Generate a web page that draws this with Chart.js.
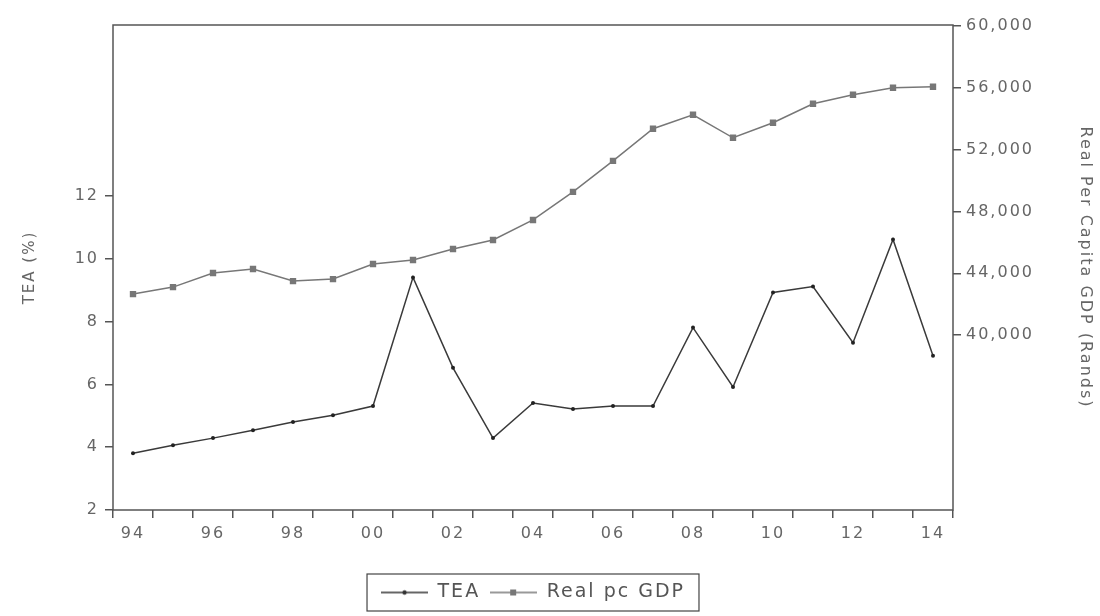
<!DOCTYPE html>
<html>
<head>
<meta charset="utf-8">
<script src="https://cdn.jsdelivr.net/npm/chart.js@4/dist/chart.umd.min.js"></script>
<style>
  body { margin: 0; background: #fff; }
</style>
</head>
<body>
<canvas id="chart" width="1100" height="616"></canvas>
<script>
const years = [1994, 1995, 1996, 1997, 1998, 1999, 2000, 2001, 2002, 2003, 2004,
               2005, 2006, 2007, 2008, 2009, 2010, 2011, 2012, 2013, 2014];
const tea = [3.81, 4.06, 4.29, 4.54, 4.8, 5.02, 5.31, 9.41, 6.53, 4.29, 5.41,
             5.22, 5.31, 5.31, 7.81, 5.92, 8.93, 9.12, 7.33, 10.62, 6.91];
const gdp = [42655, 43109, 44016, 44275, 43497, 43627, 44598, 44858, 45570, 46153, 47448,
             49262, 51269, 53342, 54249, 52759, 53731, 54961, 55544, 55997, 56062];
const leftTicks = [2, 4, 6, 8, 10, 12];
const rightTicks = [40000, 44000, 48000, 52000, 56000, 60000];

const FONT = "'DejaVu Sans', sans-serif";
const TXT = '#666';
const AX = '#555';

// little line+marker pictures for the legend
function legendIcon(color, marker) {
  let c = document.createElement('canvas');
  c.width = 47; c.height = 12;
  let g = c.getContext('2d');
  g.strokeStyle = color; g.lineWidth = 1.5;
  g.beginPath(); g.moveTo(0, 6); g.lineTo(47, 6); g.stroke();
  g.fillStyle = color;
  if (marker === 'rect') g.fillRect(20, 3, 6, 6);
  else { g.beginPath(); g.arc(23.5, 6, 2.2, 0, Math.PI * 2); g.fill(); }
  return c;
}
const icons = [legendIcon('#333', 'dot'), legendIcon('#777', 'rect')];

const spacing = {
  id: 'spacing',
  beforeUpdate(chart) { chart.ctx.letterSpacing = '2px'; },
  beforeDraw(chart) { chart.ctx.letterSpacing = '2px'; }
};

const frame = {
  id: 'frame',
  afterDraw(chart) {
    let {ctx, chartArea: a} = chart;
    ctx.save();
    ctx.strokeStyle = AX; ctx.lineWidth = 1.5;
    ctx.strokeRect(a.left, a.top, a.right - a.left, a.bottom - a.top);
    // box round the legend
    let l = chart.legend;
    let w = l.lineWidths[0] - l.options.labels.padding;
    let cx = (l.left + l.right) / 2;
    ctx.lineWidth = 1.2;
    ctx.strokeStyle = '#444';
    ctx.strokeRect(cx - w / 2 - 14, l.top + 1, w + 28, l.bottom - l.top - 2);
    ctx.restore();
  }
};

new Chart('chart', {
  type: 'line',
  data: {
    labels: years,
    datasets: [{
      label: 'TEA',
      data: tea,
      yAxisID: 'y',
      borderColor: '#3a3a3a',
      borderWidth: 1.5,
      pointStyle: 'circle',
      pointRadius: 2,
      pointBackgroundColor: '#222',
      pointBorderWidth: 0
    }, {
      label: 'Real pc GDP',
      data: gdp,
      yAxisID: 'y1',
      borderColor: '#777',
      borderWidth: 1.5,
      pointStyle: 'rect',
      pointRadius: 4.5,
      pointBackgroundColor: '#777',
      pointBorderWidth: 0
    }]
  },
  options: {
    responsive: false,
    animation: false,
    layout: {padding: {top: 25, bottom: 4, left: 0, right: 0}},
    plugins: {
      tooltip: {enabled: false},
      legend: {
        position: 'bottom',
        fullSize: false,
        labels: {
          usePointStyle: true,
          pointStyleWidth: 47,
          padding: 10,
          color: '#555',
          font: {family: FONT, size: 19},
          generateLabels: (chart) => {
            let items = Chart.defaults.plugins.legend.labels.generateLabels(chart);
            items.forEach((it, i) => { it.pointStyle = icons[i]; });
            return items;
          }
        }
      }
    },
    scales: {
      x: {
        type: 'category',
        offset: true,
        border: {display: false},
        grid: {offset: true, drawOnChartArea: false, tickLength: 8, color: AX, lineWidth: 1.5},
        ticks: {
          autoSkip: false, maxRotation: 0, padding: 6,
          color: TXT, font: {family: FONT, size: 16},
          callback: (v, i) => i % 2 === 0 ? String(years[i]).slice(2) : ''
        },
        afterFit: (s) => { s.height = 63; }
      },
      y: {
        position: 'left',
        min: 2, max: 17.45,
        border: {display: false},
        grid: {drawOnChartArea: false, tickLength: 8, color: AX, lineWidth: 1.5},
        afterBuildTicks: (s) => { s.ticks = leftTicks.map(v => ({value: v})); },
        ticks: {padding: 6, color: TXT, font: {family: FONT, size: 16}},
        title: {display: true, text: 'TEA (%)', color: TXT, font: {family: FONT, size: 15}, padding: {top: 21, bottom: 0}},
        afterFit: (s) => { s.width = 113; }
      },
      y1: {
        position: 'right',
        min: 28700, max: 60050,
        border: {display: false},
        grid: {drawOnChartArea: false, tickLength: 8, color: AX, lineWidth: 1.5},
        afterBuildTicks: (s) => { s.ticks = rightTicks.map(v => ({value: v})); },
        ticks: {
          padding: 5, color: TXT, font: {family: FONT, size: 16},
          callback: (v) => v.toLocaleString('en-US')
        },
        title: {display: true, text: 'Real Per Capita GDP (Rands)', color: TXT, font: {family: FONT, size: 16}, padding: {top: 5, bottom: 0}},
        afterFit: (s) => { s.width = 147; }
      }
    }
  },
  plugins: [spacing, frame]
});
</script>
</body>
</html>
